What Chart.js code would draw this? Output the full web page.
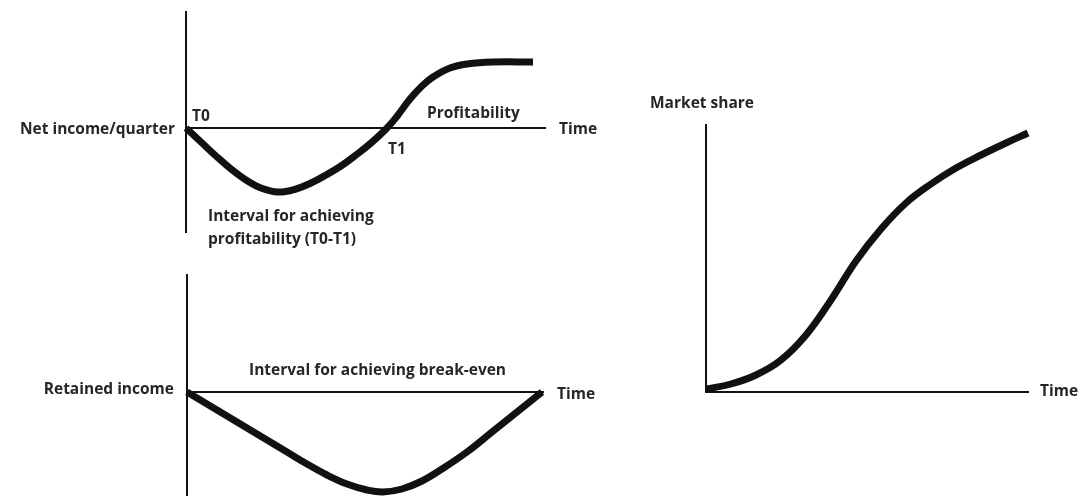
<!DOCTYPE html>
<html>
<head>
<meta charset="utf-8">
<script src="https://cdn.jsdelivr.net/npm/chart.js@4.4.1/dist/chart.umd.min.js"></script>
<style>
  html, body { margin:0; padding:0; background:#fff; }
  body { width:1083px; height:499px; position:relative; overflow:hidden; }
  .box { position:absolute; }
</style>
</head>
<body>
<div class="box" style="left:0;top:0;width:620px;height:250px"><canvas id="netChart"></canvas></div>
<div class="box" style="left:0;top:250px;width:620px;height:249px"><canvas id="retainedChart"></canvas></div>
<div class="box" style="left:620px;top:0;width:463px;height:499px"><canvas id="shareChart"></canvas></div>
<script>
// net income per quarter (schematic units)
const netTime   = [0, 15, 30, 45, 60, 75, 92, 110, 125, 140, 155, 170, 185, 201, 212, 224, 236, 247, 264, 281, 307, 347];
const netIncome = [0, -14, -28, -41, -52, -60, -64, -61, -55, -47, -38, -27, -15, 0, 13, 29, 42, 51, 60, 64, 66, 66];

// retained income
const retTime   = [0, 20, 40, 60, 80, 100, 120, 140, 160, 180, 196, 215, 235, 255, 280, 305, 330, 355];
const retIncome = [0, -12, -24, -36, -48, -60, -72, -83, -92, -98, -100, -97, -89, -77, -60, -40, -20, 0];

// market share
const shareTime  = [0, 25, 50, 75, 100, 125, 150, 175, 200, 225, 250, 275, 300, 322];
const shareValue = [3, 8, 17, 32, 57, 92, 131, 163, 189, 208, 224, 237, 249, 259];

const INK = '#111';
const TEXT = '#262626';

function toPoints(xs, ys){ return xs.map((x, i) => ({ x, y: ys[i] })); }

// draws text notes at data coordinates
const notesPlugin = {
  id: 'notes',
  afterDraw(chart, args, opts) {
    const ctx = chart.ctx;
    const xs = chart.scales.x, ys = chart.scales.y;
    ctx.save();
    ctx.font = '700 15.5px "Open Sans"';
    ctx.fillStyle = TEXT;
    ctx.textBaseline = 'middle';
    (opts.items || []).forEach(it => {
      ctx.textAlign = it.align || 'left';
      ctx.fillText(it.text, xs.getPixelForValue(it.x), ys.getPixelForValue(it.y) + 1.5);
    });
    ctx.restore();
  }
};

function axisOpts(min, max, extra){
  return Object.assign({
    type: 'linear', min, max,
    grid: { display:false, drawTicks:false },
    ticks: { display:false },
    border: { display:true, color:INK, width:2 }
  }, extra || {});
}

function makeChart(id, points, xr, yr, pad, xPos, notes){
  return new Chart(document.getElementById(id), {
    type: 'line',
    data: { datasets: [{
      data: points,
      borderColor: INK,
      borderWidth: 7,
      pointRadius: 0,
      tension: 0.4,
      clip: false
    }]},
    options: {
      responsive: true,
      maintainAspectRatio: false,
      animation: false,
      layout: { padding: pad },
      plugins: { legend:{display:false}, tooltip:{enabled:false}, notes:{ items: notes } },
      scales: {
        x: axisOpts(xr[0], xr[1], { position: xPos }),
        y: axisOpts(yr[0], yr[1], { position: 'left' })
      }
    },
    plugins: [notesPlugin]
  });
}

makeChart('netChart', toPoints(netTime, netIncome), [0, 359], [-104, 116],
  { left:186, right:75, top:12, bottom:18 }, { y: 0 }, [
    { text:'Net income/quarter', x:-11, y:0, align:'right' },
    { text:'T0', x:6, y:13 },
    { text:'T1', x:202, y:-20 },
    { text:'Profitability', x:241, y:16 },
    { text:'Time', x:373, y:0 },
    { text:'Interval for achieving', x:22, y:-87 },
    { text:'profitability (T0-T1)', x:22, y:-110 }
  ]);

makeChart('retainedChart', toPoints(retTime, retIncome), [0, 356], [-103, 117],
  { left:187, right:77, top:25, bottom:4 }, { y: 0 }, [
    { text:'Retained income', x:-13, y:4, align:'right' },
    { text:'Interval for achieving break-even', x:62, y:23 },
    { text:'Time', x:370, y:-1 }
  ]);

makeChart('shareChart', toPoints(shareTime, shareValue), [0, 322], [0, 267],
  { left:86, right:55, top:125, bottom:107 }, 'bottom', [
    { text:'Market share', x:-56, y:290 },
    { text:'Time', x:334, y:2 }
  ]);
</script>
</body>
</html>
